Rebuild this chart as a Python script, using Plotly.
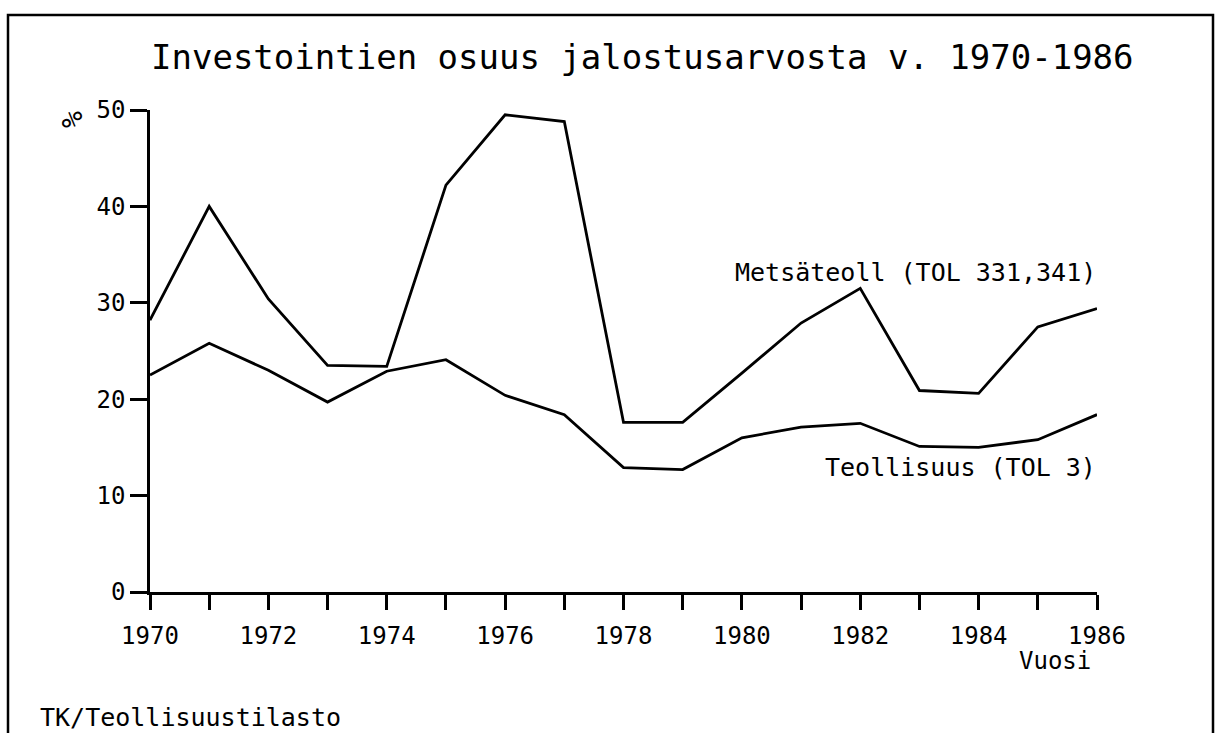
import plotly.graph_objects as go

years = list(range(1970, 1987))
metsateoll = [28.2, 40.0, 30.4, 23.5, 23.4, 42.2, 49.5, 48.8, 17.6, 17.6, 22.7, 27.9, 31.5, 20.9, 20.6, 27.5, 29.4]
teollisuus = [22.5, 25.8, 23.0, 19.7, 22.9, 24.1, 20.4, 18.4, 12.9, 12.7, 16.0, 17.1, 17.5, 15.1, 15.0, 15.8, 18.4]
x_ticks = list(range(1970, 1987, 2))
y_ticks = [0, 10, 20, 30, 40, 50]

W, H = 1216, 733
L, R, T, B = 150, 119, 110, 141
PW, PH = W - L - R, H - T - B

def px(x):
    return (x - L) / PW

def py(y):
    return (H - B - y) / PH

FONT = "DejaVu Sans Mono"

fig = go.Figure()
fig.add_trace(go.Scatter(x=years, y=metsateoll, mode="lines",
                         line=dict(color="black", width=2.8), showlegend=False))
fig.add_trace(go.Scatter(x=years, y=teollisuus, mode="lines",
                         line=dict(color="black", width=2.8), showlegend=False))

fig.update_layout(
    width=W, height=H,
    margin=dict(l=L, r=R, t=T, b=B),
    paper_bgcolor="white", plot_bgcolor="white",
    font=dict(family=FONT, color="black"),
    xaxis=dict(range=[1970, 1986], tickvals=x_ticks, ticktext=[str(v) for v in x_ticks],
               ticks="outside", ticklen=15, tickwidth=2.5, tickcolor="black",
               ticklabelstandoff=5,
               showline=True, linecolor="black", linewidth=2.5,
               showgrid=False, zeroline=False,
               tickfont=dict(family=FONT, size=24, color="black"),
               minor=dict(dtick=1, tick0=1970, ticks="outside", ticklen=15, tickwidth=2.5,
                          tickcolor="black", showgrid=False)),
    yaxis=dict(range=[0, 50], tickvals=y_ticks,
               ticks="outside", ticklen=17, tickwidth=2.5, tickcolor="black",
               showline=True, linecolor="black", linewidth=2.5,
               showgrid=False, zeroline=False,
               tickfont=dict(family=FONT, size=24, color="black")),
)

# frame
fig.add_shape(type="rect", xref="paper", yref="paper",
              x0=px(8), x1=px(1213), y0=py(745), y1=py(15),
              line=dict(color="black", width=2.5), fillcolor="rgba(0,0,0,0)", layer="below")

ann = [
    dict(text="Investointien osuus jalostusarvosta v. 1970-1986", x=px(642), y=py(57),
         xanchor="center", yanchor="middle", size=34),
    dict(text="Metsäteoll (TOL 331,341)", x=px(1098), y=py(272),
         xanchor="right", yanchor="middle", size=25),
    dict(text="Teollisuus (TOL 3)", x=px(1098), y=py(467),
         xanchor="right", yanchor="middle", size=25),
    dict(text="Vuosi", x=px(1093), y=py(661),
         xanchor="right", yanchor="middle", size=24),
    dict(text="TK/Teollisuustilasto", x=px(38), y=py(717),
         xanchor="left", yanchor="middle", size=25),
]
for a in ann:
    fig.add_annotation(text=a["text"], x=a["x"], y=a["y"], xref="paper", yref="paper",
                       xanchor=a["xanchor"], yanchor=a["yanchor"], showarrow=False,
                       font=dict(family=FONT, size=a["size"], color="black"))

fig.add_annotation(text="%", x=px(72), y=py(120), xref="paper", yref="paper",
                   textangle=-90, showarrow=False, xanchor="center", yanchor="middle",
                   font=dict(family=FONT, size=28, color="black"))

fig.write_html("out.html", config={"displayModeBar": False},
               post_script="document.body.style.margin='0';document.body.style.overflow='hidden';")
